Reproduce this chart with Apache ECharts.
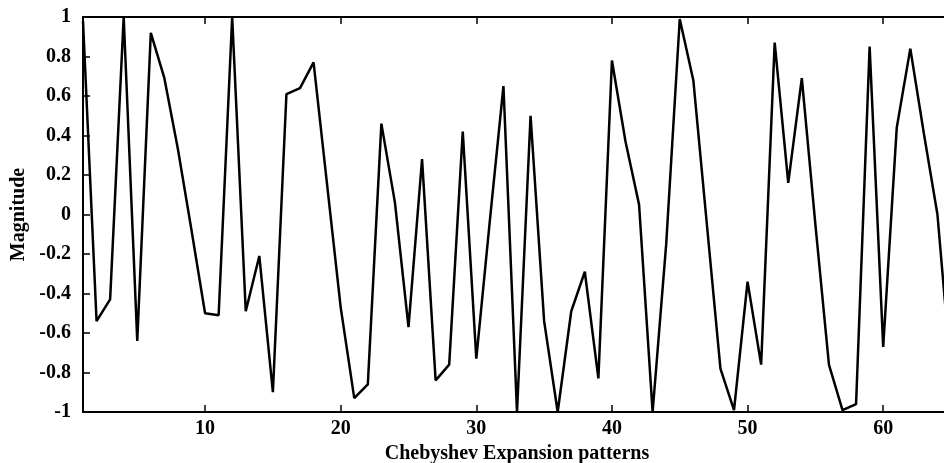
<!DOCTYPE html>
<html>
<head>
<meta charset="utf-8">
<script src="https://cdn.jsdelivr.net/npm/echarts@6/dist/echarts.min.js"></script>
<style>
  html, body { margin: 0; padding: 0; background: #fff; }
  #chart { width: 944px; height: 463px; }
</style>
</head>
<body>
<div id="chart"></div>
<script>
// pattern index 1..65
var patterns = [];
for (var i = 1; i <= 65; i++) patterns.push(i);

// magnitude
var magnitude = [
  0.98, -0.54, -0.43, 1.0, -0.64, 0.92, 0.69, 0.33, -0.08, -0.50,
  -0.51, 1.0, -0.49, -0.21, -0.90, 0.61, 0.64, 0.77, 0.15, -0.47,
  -0.93, -0.86, 0.46, 0.06, -0.57, 0.28, -0.84, -0.76, 0.42, -0.73,
  -0.03, 0.65, -1.0, 0.50, -0.54, -1.0, -0.49, -0.29, -0.83, 0.78,
  0.37, 0.05, -1.0, -0.15, 0.99, 0.68, -0.05, -0.78, -0.99, -0.34,
  -0.76, 0.87, 0.16, 0.69, -0.05, -0.76, -0.99, -0.96, 0.85, -0.67,
  0.44, 0.84, 0.41, 0.0, -0.80
];

var xTicks = [10, 20, 30, 40, 50, 60];
var yMin = -1, yMax = 1, yStep = 0.2;

var font = 'Liberation Serif';
var points = patterns.map(function (p, i) { return [p, magnitude[i]]; });

var chart = echarts.init(document.getElementById('chart'), null, { renderer: 'canvas' });

var axisLine = { show: true, onZero: false, lineStyle: { color: '#000', width: 2 } };
var tick = { show: true, inside: true, length: 7, lineStyle: { color: '#000', width: 1.5 } };
var txt = { fontFamily: font, fontWeight: 'bold', fontSize: 20, color: '#000' };

var option = {
  animation: false,
  backgroundColor: '#fff',
  grid: { left: 83, right: -7, top: 17, bottom: 51, containLabel: false, outerBoundsMode: 'none' },
  xAxis: [
    {
      type: 'value', min: 1, max: 65, position: 'bottom',
      name: 'Chebyshev Expansion patterns', nameLocation: 'middle', nameGap: 21,
      nameTextStyle: txt,
      axisLine: axisLine,
      axisTick: Object.assign({ customValues: xTicks }, tick),
      axisLabel: Object.assign({ customValues: xTicks, margin: 7 }, txt),
      splitLine: { show: false }
    },
    {
      type: 'value', min: 1, max: 65, position: 'top',
      axisLine: axisLine,
      axisTick: Object.assign({ customValues: xTicks }, tick),
      axisLabel: { show: false },
      splitLine: { show: false }
    }
  ],
  yAxis: [
    {
      type: 'value', min: yMin, max: yMax, interval: yStep, position: 'left',
      name: 'Magnitude', nameLocation: 'middle', nameGap: 50, nameRotate: 90,
      nameTextStyle: txt,
      axisLine: axisLine,
      axisTick: tick,
      axisLabel: Object.assign({
        margin: 12,
        formatter: function (v) { return String(Math.round(v * 10) / 10); }
      }, txt),
      splitLine: { show: false }
    },
    {
      type: 'value', min: yMin, max: yMax, interval: yStep, position: 'right',
      axisLine: axisLine,
      axisTick: tick,
      axisLabel: { show: false },
      splitLine: { show: false }
    }
  ],
  series: [{
    type: 'line',
    data: points,
    showSymbol: false,
    clip: true,
    lineStyle: { color: '#000', width: 2.5 }
  }]
};

chart.setOption(option);
</script>
</body>
</html>
